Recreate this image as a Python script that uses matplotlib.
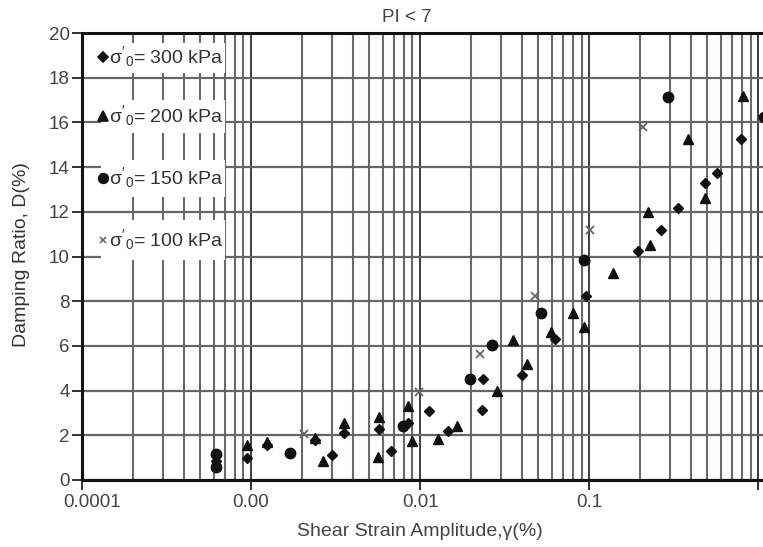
import matplotlib.pyplot as plt
from matplotlib.patches import Rectangle
from matplotlib.transforms import ScaledTranslation
from matplotlib.ticker import FixedLocator, FixedFormatter, LogLocator, NullFormatter

plt.rcParams['font.family'] = ['Liberation Sans', 'DejaVu Sans']
plt.rcParams['mathtext.fontset'] = 'custom'
plt.rcParams['mathtext.rm'] = 'Liberation Sans'
plt.rcParams['mathtext.it'] = 'Liberation Sans'
plt.rcParams['mathtext.bf'] = 'Liberation Sans:bold'

# shear strain amplitude (%) and damping ratio (%) per confining pressure
strain_300 = [6.2e-4, 9.4e-4, 1.25e-3, 2.4e-3, 3.0e-3, 3.55e-3, 5.7e-3, 6.7e-3,
              8.45e-3, 1.13e-2, 1.47e-2, 2.33e-2, 2.34e-2, 4.0e-2, 6.3e-2,
              9.6e-2, 0.194, 0.267, 0.336, 0.484, 0.568, 0.793]
damping_300 = [0.85, 1.0, 1.55, 1.8, 1.1, 2.1, 2.3, 1.3,
               2.55, 3.1, 2.2, 3.15, 4.5, 4.7, 6.3,
               8.25, 10.25, 11.2, 12.15, 13.3, 13.75, 15.25]

strain_200 = [9.4e-4, 1.25e-3, 2.4e-3, 2.66e-3, 3.55e-3, 5.7e-3, 5.65e-3,
              8.45e-3, 8.9e-3, 1.27e-2, 1.65e-2, 2.86e-2, 3.54e-2, 4.3e-2,
              5.95e-2, 8.0e-2, 9.25e-2, 0.138, 0.223, 0.228, 0.383, 0.481, 0.811]
damping_200 = [1.55, 1.7, 1.9, 0.85, 2.55, 2.8, 1.05,
               3.3, 1.75, 1.85, 2.4, 4.0, 6.25, 5.2,
               6.6, 7.45, 6.85, 9.25, 12.0, 10.5, 15.25, 12.6, 17.2]

strain_150 = [6.2e-4, 6.2e-4, 1.7e-3, 7.9e-3, 1.96e-2, 2.67e-2, 5.2e-2,
              9.25e-2, 0.294, 1.08]
damping_150 = [1.15, 0.6, 1.2, 2.4, 4.5, 6.05, 7.45, 9.85, 17.15, 16.25]

strain_100 = [2.05e-3, 9.8e-3, 2.26e-2, 4.75e-2, 0.101, 0.209]
damping_100 = [2.05, 3.95, 5.65, 8.25, 11.2, 15.8]

xtick_pos = [1e-4, 1e-3, 1e-2, 1e-1, 1.0]
xtick_labels = ['0.0001', '0.00', '0.01', '0.1', '']
yticks = list(range(0, 21, 2))
legend_labels = [r"$\sigma'_0$= 300 kPa", r"$\sigma'_0$= 200 kPa",
                 r"$\sigma'_0$= 150 kPa", r"$\sigma'_0$= 100 kPa"]

W, H = 763, 547
fig = plt.figure(figsize=(W / 100, H / 100), dpi=100)
ax = fig.add_axes([82 / W, 67 / H, 681 / W, 447 / H])

ax.set_xscale('log')
ax.set_xlim(1e-4, 1.065)
ax.set_ylim(0, 20)

ax.xaxis.set_major_locator(FixedLocator(xtick_pos))
ax.xaxis.set_major_formatter(FixedFormatter(xtick_labels))
ax.xaxis.set_minor_locator(LogLocator(base=10, subs=range(2, 10)))
ax.xaxis.set_minor_formatter(NullFormatter())
ax.set_yticks(yticks)

ax.grid(which='minor', axis='x', color='#6a6a6a', lw=1.5)
ax.grid(which='major', axis='x', color='#1e1e1e', lw=1.2)
ax.grid(which='major', axis='y', color='#666666', lw=1.6)

ax.tick_params(which='minor', length=0)
ax.tick_params(axis='both', which='major', direction='out', length=7,
               width=1.3, color='#222222', labelsize=13.5, labelcolor='#444444')
ax.tick_params(axis='y', pad=2)
ax.tick_params(axis='x', pad=3)

# first strain label sits a little right of its tick
first = ax.get_xticklabels()[0]
first.set_transform(first.get_transform() + ScaledTranslation(0.1, 0, fig.dpi_scale_trans))

for side in ['left', 'bottom', 'top']:
    ax.spines[side].set_linewidth(2.2)
    ax.spines[side].set_color('#111111')
ax.spines['right'].set_visible(False)

# data
ax.plot(strain_300, damping_300, 'D', color='#111111', ms=5.5, zorder=4)
ax.plot(strain_200, damping_200, '^', color='#111111', ms=7, zorder=4)
ax.plot(strain_150, damping_150, 'o', color='#111111', ms=7.5, zorder=4)
ax.plot(strain_100, damping_100, 'x', color='#666666', ms=6, mew=1.3, zorder=4)

# legend entries, each on its own white box over the grid
markers = [('D', 5, '#111111'), ('^', 6.5, '#111111'),
           ('o', 7, '#111111'), ('x', 5, '#666666')]
label_y = [57, 116, 178, 240]
boxes = [(43, 73), (100, 133), (160, 197), (220, 260)]
x0, x1 = (101 - 82) / 681, (225 - 82) / 681
for (mk, ms, col), lab, py, (b0, b1) in zip(markers, legend_labels, label_y, boxes):
    ax.add_patch(Rectangle((x0, (480 - b1) / 447), x1 - x0, (b1 - b0) / 447,
                           transform=ax.transAxes, facecolor='white',
                           edgecolor='none', zorder=2))
    yf = (480 - py) / 447
    ax.plot([(103 - 82) / 681], [yf], mk, color=col, ms=ms, mew=1.2,
            transform=ax.transAxes, clip_on=False, zorder=5)
    ax.text((109 - 82) / 681, yf, lab, transform=ax.transAxes, ha='left',
            va='center', fontsize=14, color='#333333', zorder=5)

fig.text(407 / W, 1 - 17 / H, 'PI < 7', ha='center', va='center',
         fontsize=13.5, color='#444444')
fig.text(420 / W, 1 - 531 / H, 'Shear Strain Amplitude,γ(%)', ha='center',
         va='center', fontsize=14, color='#444444')
fig.text(22 / W, 1 - 255 / H, 'Damping Ratio, D(%)', ha='center', va='center',
         rotation=90, fontsize=14, color='#333333')

fig.savefig('out.png', dpi=100)
plt.close(fig)
